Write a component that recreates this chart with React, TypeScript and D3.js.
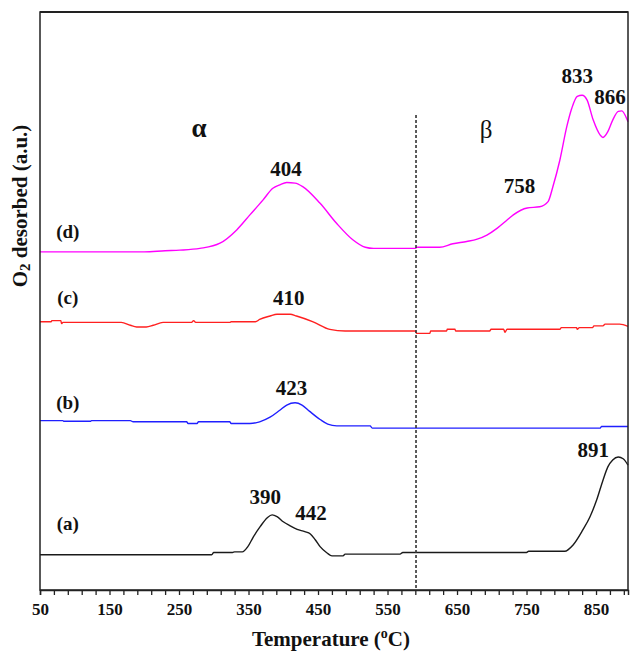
import { useEffect, useRef } from "react";
import * as d3 from "d3";

// temperature (°C), O2 signal (a.u., offset stack)
const curveA = [
  [50, 6.1], [297, 6.1], [300, 6.5], [327, 6.5], [330, 6.6], [341, 6.6], [349, 7.5],
  [357, 9.2], [367, 11.0], [377, 12.5], [384, 13.0], [391, 12.7], [400, 11.8],
  [410, 11.1], [420, 10.5], [431, 10.1], [439, 9.7], [446, 8.7], [453, 7.5],
  [463, 6.4], [470, 5.9], [486, 5.9], [489, 6.2], [568, 6.2], [572, 6.5],
  [750, 6.5], [753, 6.7], [805, 6.7], [817, 7.8], [831, 10.4], [841, 12.6],
  [851, 15.6], [860, 19.0], [867, 21.3], [874, 22.5], [882, 23.0], [889, 22.7], [896, 21.6]
];

const curveB = [
  [50, 29.3], [83, 29.3], [84, 29.2], [123, 29.2], [124, 29.3], [180, 29.3],
  [184, 29.1], [261, 29.1], [263, 28.8], [276, 28.8], [278, 29.1], [323, 29.1],
  [325, 28.8], [352, 28.8], [366, 29.1], [381, 29.9], [395, 31.1], [405, 32.0],
  [417, 32.4], [427, 32.0], [438, 30.9], [453, 29.5], [464, 28.7], [477, 28.4],
  [525, 28.4], [528, 28.0], [856, 28.0], [858, 28.3], [896, 28.3]
];

const curveC = [
  [50, 46.4], [66, 46.4], [67, 46.6], [80, 46.6], [81, 46.1], [83, 46.3], [167, 46.3],
  [180, 45.8], [189, 45.5], [203, 45.5], [213, 45.8], [227, 46.3], [268, 46.3],
  [271, 46.6], [274, 46.3], [323, 46.3], [325, 46.4], [360, 46.4], [366, 46.8],
  [381, 47.4], [391, 47.7], [410, 47.7], [419, 47.4], [443, 46.4], [467, 45.1],
  [489, 44.8], [590, 44.8], [592, 44.4], [611, 44.4], [612, 44.8], [635, 44.8],
  [636, 45.1], [647, 45.1], [648, 44.8], [697, 44.8], [699, 45.1], [717, 45.1],
  [719, 44.6], [722, 45.1], [798, 45.1], [800, 45.4], [822, 45.4], [823, 45.1],
  [826, 45.4], [845, 45.4], [847, 45.7], [860, 45.7], [863, 46.0], [884, 46.0], [896, 45.6]
];

const curveD = [
  [50, 58.5], [200, 58.5], [230, 58.7], [251, 58.8], [280, 59.1], [309, 60.0],
  [333, 62.3], [352, 64.9], [371, 67.5], [385, 69.5], [395, 70.1], [405, 70.5],
  [417, 70.4], [428, 69.8], [453, 66.9], [477, 63.4], [500, 60.6], [518, 59.3],
  [530, 59.1], [590, 59.1], [593, 59.3], [625, 59.3], [644, 59.9], [664, 60.3],
  [679, 60.7], [693, 61.4], [708, 62.6], [722, 64.0], [731, 64.9], [751, 66.1],
  [769, 66.3], [781, 67.2], [788, 69.8], [798, 74.4], [808, 80.2], [815, 83.3],
  [823, 85.4], [830, 85.6], [837, 84.8], [846, 81.3], [856, 78.7], [860, 78.3],
  [867, 79.3], [874, 81.3], [882, 82.8], [887, 82.9], [895, 81.3], [896, 81.0]
];

const series = [
  { name: "(a)", data: curveA, color: "#1a1a1a" },
  { name: "(b)", data: curveB, color: "#1f1fff" },
  { name: "(c)", data: curveC, color: "#ff2020" },
  { name: "(d)", data: curveD, color: "#ff00ff" }
];

// sample label: temperature, signal
const sampleLabels = [
  { text: "(a)", t: 90, v: 10.4 },
  { text: "(b)", t: 90, v: 31.4 },
  { text: "(c)", t: 90, v: 49.5 },
  { text: "(d)", t: 90, v: 60.9 }
];

const peakLabels = [
  { text: "390", t: 374, v: 14.8 },
  { text: "442", t: 440, v: 12.1 },
  { text: "891", t: 846, v: 23.0 },
  { text: "423", t: 412, v: 33.7 },
  { text: "410", t: 408, v: 49.3 },
  { text: "404", t: 404, v: 71.6 },
  { text: "758", t: 740, v: 68.7 },
  { text: "833", t: 823, v: 87.8 },
  { text: "866", t: 870, v: 84.1 }
];

const xTicks = d3.range(50, 891, 20);
const boundary = 591;

const FONT = "'Liberation Serif', 'Times New Roman', serif";

export default function App() {
  const svgRef = useRef(null);

  useEffect(() => {
    const svg = d3.select(svgRef.current);
    svg.selectAll("*").remove();

    const width = 630;
    const height = 653;
    const margin = { top: 12, right: 2, bottom: 63, left: 40 };

    const x = d3.scaleLinear().domain([50, 896]).range([margin.left, width - margin.right]);
    const y = d3.scaleLinear().domain([0, 100]).range([height - margin.bottom, margin.top]);

    const line = d3
      .line()
      .x(d => x(d[0]))
      .y(d => y(d[1]))
      .curve(d3.curveMonotoneX);

    svg.append("g")
      .selectAll("path")
      .data(series)
      .join("path")
      .attr("d", d => line(d.data))
      .attr("fill", "none")
      .attr("stroke", d => d.color)
      .attr("stroke-width", 1.4);

    // alpha / beta divider
    svg.append("line")
      .attr("x1", x(boundary))
      .attr("x2", x(boundary))
      .attr("y1", y(82.2))
      .attr("y2", y(0))
      .attr("stroke", "#333")
      .attr("stroke-width", 1.6)
      .attr("stroke-dasharray", "3,2");

    // frame
    svg.append("rect")
      .attr("x", margin.left)
      .attr("y", margin.top)
      .attr("width", width - margin.left - margin.right)
      .attr("height", height - margin.top - margin.bottom)
      .attr("fill", "none")
      .attr("stroke", "#222")
      .attr("stroke-width", 1.5);
    svg.append("line")
      .attr("x1", margin.left)
      .attr("x2", width - margin.right)
      .attr("y1", margin.top)
      .attr("y2", margin.top)
      .attr("stroke", "#222")
      .attr("stroke-width", 2.2);

    const xAxis = svg.append("g")
      .attr("transform", `translate(0,${height - margin.bottom})`)
      .call(
        d3.axisBottom(x)
          .tickValues(xTicks)
          .tickSize(5)
          .tickPadding(8)
          .tickFormat(d => ((d - 50) % 100 === 0 ? String(d) : ""))
      );
    xAxis.select(".domain").attr("stroke", "#222").attr("stroke-width", 1.5);
    xAxis.selectAll(".tick line").attr("stroke", "#222").attr("stroke-width", 1.3);
    xAxis.selectAll(".tick text")
      .attr("font-family", FONT)
      .attr("font-weight", "bold")
      .attr("font-size", 17)
      .attr("fill", "#111");

    // axis titles
    const xt = svg.append("text")
      .attr("x", 331)
      .attr("y", 646)
      .attr("text-anchor", "middle")
      .attr("font-family", FONT)
      .attr("font-weight", "bold")
      .attr("font-size", 21)
      .attr("fill", "#111");
    xt.append("tspan").text("Temperature (");
    xt.append("tspan").attr("font-size", 14).attr("dy", -8).text("o");
    xt.append("tspan").attr("dy", 8).text("C)");

    const yt = svg.append("text")
      .attr("transform", "translate(27,206) rotate(-90)")
      .attr("text-anchor", "middle")
      .attr("font-family", FONT)
      .attr("font-weight", "bold")
      .attr("font-size", 21)
      .attr("fill", "#111");
    yt.append("tspan").text("O");
    yt.append("tspan").attr("font-size", 15).attr("dy", 3).text("2");
    yt.append("tspan").attr("dy", -3).text(" desorbed (a.u.)");

    svg.append("g")
      .selectAll("text")
      .data(sampleLabels)
      .join("text")
      .attr("x", d => x(d.t))
      .attr("y", d => y(d.v))
      .attr("text-anchor", "middle")
      .attr("font-family", FONT)
      .attr("font-weight", "bold")
      .attr("font-size", 19)
      .attr("fill", "#111")
      .text(d => d.text);

    svg.append("g")
      .selectAll("text")
      .data(peakLabels)
      .join("text")
      .attr("x", d => x(d.t))
      .attr("y", d => y(d.v))
      .attr("text-anchor", "middle")
      .attr("font-family", FONT)
      .attr("font-weight", "bold")
      .attr("font-size", 21)
      .attr("fill", "#111")
      .text(d => d.text);

    svg.append("text")
      .attr("x", x(279))
      .attr("y", y(78.4))
      .attr("text-anchor", "middle")
      .attr("font-family", FONT)
      .attr("font-weight", "bold")
      .attr("font-size", 27)
      .attr("fill", "#111")
      .text("α");

    svg.append("text")
      .attr("x", x(692))
      .attr("y", y(78.2))
      .attr("text-anchor", "middle")
      .attr("font-family", FONT)
      .attr("font-size", 25)
      .attr("fill", "#111")
      .text("β");
  }, []);

  return (
    <svg
      ref={svgRef}
      width={630}
      height={653}
      style={{ position: "absolute", left: 0, top: 0, background: "#fff" }}
    ></svg>
  );
}
